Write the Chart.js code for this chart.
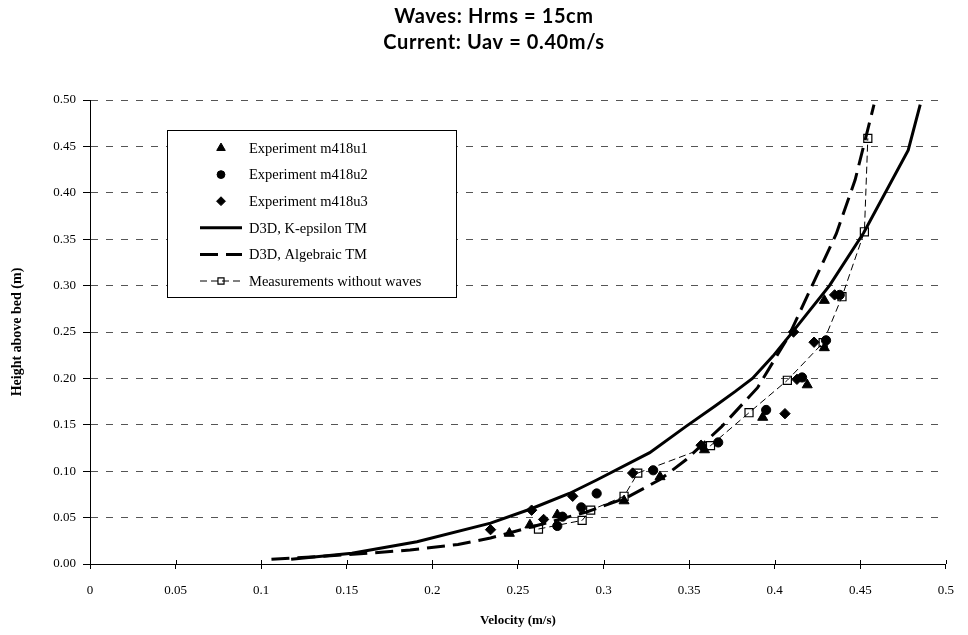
<!DOCTYPE html>
<html>
<head>
<meta charset="utf-8">
<title>Velocity profile</title>
<script src="https://cdn.jsdelivr.net/npm/chart.js@4.4.1/dist/chart.umd.min.js"></script>
<style>
  html, body { margin: 0; padding: 0; background: #fff; }
  #wrap { position: relative; width: 968px; height: 635px; }
</style>
</head>
<body>
<div id="wrap"><canvas id="profileChart"></canvas></div>
<script>
const titleLines = ['Waves: Hrms = 15cm', 'Current: Uav = 0.40m/s'];
const xTickLabels = ['0', '0.05', '0.1', '0.15', '0.2', '0.25', '0.3', '0.35', '0.4', '0.45', '0.5'];
const yTickLabels = ['0.00', '0.05', '0.10', '0.15', '0.20', '0.25', '0.30', '0.35', '0.40', '0.45', '0.50'];

// experiment m418u1 (triangles)
const u1Vel = [0.245, 0.257, 0.273, 0.312, 0.333, 0.359, 0.393, 0.419, 0.429, 0.429];
const u1Z   = [0.033, 0.042, 0.053, 0.068, 0.094, 0.123, 0.158, 0.193, 0.233, 0.284];
// experiment m418u2 (circles)
const u2Vel = [0.273, 0.276, 0.287, 0.296, 0.329, 0.367, 0.395, 0.416, 0.430, 0.438];
const u2Z   = [0.041, 0.051, 0.061, 0.076, 0.101, 0.131, 0.166, 0.201, 0.241, 0.290];
// experiment m418u3 (diamonds)
const u3Vel = [0.234, 0.258, 0.265, 0.282, 0.317, 0.357, 0.406, 0.413, 0.411, 0.423, 0.435];
const u3Z   = [0.037, 0.058, 0.048, 0.073, 0.098, 0.128, 0.162, 0.199, 0.250, 0.239, 0.290];

// model results
const kepsVel = [0.1175, 0.153, 0.191, 0.234, 0.257, 0.280, 0.296, 0.327, 0.348, 0.365, 0.377, 0.387, 0.399, 0.410, 0.432, 0.452, 0.478, 0.485];
const kepsZ   = [0.005, 0.0115, 0.024, 0.044, 0.059, 0.076, 0.0905, 0.120, 0.148, 0.170, 0.186, 0.200, 0.224, 0.249, 0.300, 0.357, 0.446, 0.495];
const algVel  = [0.106, 0.150, 0.187, 0.215, 0.234, 0.260, 0.290, 0.313, 0.333, 0.348, 0.369, 0.390, 0.408, 0.436, 0.447, 0.458];
const algZ    = [0.005, 0.010, 0.015, 0.021, 0.028, 0.041, 0.056, 0.071, 0.091, 0.112, 0.148, 0.190, 0.245, 0.356, 0.414, 0.495];

// current only
const noWaveVel = [0.262, 0.2875, 0.2925, 0.312, 0.320, 0.3625, 0.385, 0.4074, 0.4283, 0.4393, 0.4524, 0.4544];
const noWaveZ   = [0.0377, 0.047, 0.058, 0.073, 0.098, 0.1275, 0.163, 0.198, 0.2385, 0.288, 0.358, 0.4587];

function pairs(xs, ys) {
  return xs.map((x, i) => ({ x: x, y: ys[i] }));
}

const serif = 'Liberation Serif, Times New Roman, serif';

function markerSet(label, xs, ys, style, r) {
  return {
    label: label,
    data: pairs(xs, ys),
    showLine: false,
    pointStyle: style,
    pointRadius: r,
    pointHoverRadius: r,
    pointBackgroundColor: '#000',
    pointBorderColor: '#000',
    pointBorderWidth: 1
  };
}

const datasets = [
  markerSet('Experiment m418u1', u1Vel, u1Z, 'triangle', 5.8),
  markerSet('Experiment m418u2', u2Vel, u2Z, 'circle', 4.6),
  markerSet('Experiment m418u3', u3Vel, u3Z, 'rectRot', 5.2),
  {
    label: 'D3D, K-epsilon TM',
    data: pairs(kepsVel, kepsZ),
    showLine: true,
    borderColor: '#000',
    borderWidth: 3,
    pointRadius: 0,
    tension: 0
  },
  {
    label: 'D3D, Algebraic TM',
    data: pairs(algVel, algZ),
    showLine: true,
    borderColor: '#000',
    borderWidth: 3,
    borderDash: [18, 8],
    pointRadius: 0,
    tension: 0
  },
  {
    label: 'Measurements without waves',
    data: pairs(noWaveVel, noWaveZ),
    showLine: true,
    borderColor: '#000',
    borderWidth: 1,
    borderDash: [7, 4],
    pointStyle: 'rect',
    pointRadius: 5.7,
    pointHoverRadius: 5.7,
    pointBackgroundColor: 'rgba(0,0,0,0)',
    pointBorderColor: '#000',
    pointBorderWidth: 1.2,
    tension: 0
  }
];

// two bold lines over the plot
const titlePlugin = {
  id: 'twoLineTitle',
  afterDraw(chart) {
    const ctx = chart.ctx;
    ctx.save();
    ctx.fillStyle = '#000';
    ctx.font = 'bold 20px Lato, sans-serif';
    ctx.letterSpacing = '0.6px';
    ctx.textAlign = 'center';
    ctx.textBaseline = 'middle';
    titleLines.forEach((t, i) => ctx.fillText(t, 494, 17 + i * 26));
    ctx.restore();
  }
};

// x ticks cross the axis line
const innerTicks = {
  id: 'innerTicks',
  afterDraw(chart) {
    const sx = chart.scales.x;
    const ctx = chart.ctx;
    const yb = chart.chartArea.bottom;
    ctx.save();
    ctx.strokeStyle = '#000';
    ctx.lineWidth = 1;
    sx.ticks.forEach(t => {
      const px = Math.round(sx.getPixelForValue(t.value)) + 0.5;
      ctx.beginPath();
      ctx.moveTo(px, yb - 4);
      ctx.lineTo(px, yb);
      ctx.stroke();
    });
    ctx.restore();
  }
};

// boxed legend sitting inside the plot area
const boxLegend = {
  id: 'boxLegend',
  afterDatasetsDraw(chart) {
    const ctx = chart.ctx;
    const left = 167, top = 130, width = 289, height = 167;
    ctx.save();
    ctx.fillStyle = '#fff';
    ctx.fillRect(left, top, width, height);
    ctx.strokeStyle = '#000';
    ctx.lineWidth = 1;
    ctx.strokeRect(left + 0.5, top + 0.5, width, height);

    chart.data.datasets.forEach((ds, i) => {
      const y = 148 + i * 26.6;
      const mx = 221;
      if (ds.showLine) {
        ctx.save();
        ctx.strokeStyle = ds.borderColor;
        ctx.lineWidth = ds.borderWidth;
        ctx.setLineDash(ds.borderDash || []);
        ctx.beginPath();
        ctx.moveTo(200, y);
        ctx.lineTo(242, y);
        ctx.stroke();
        ctx.restore();
      }
      if (ds.pointRadius > 0) {
        ctx.save();
        ctx.fillStyle = ds.pointBackgroundColor;
        ctx.strokeStyle = ds.pointBorderColor;
        ctx.lineWidth = ds.pointBorderWidth;
        const r = ds.pointStyle === 'rect' ? 4.3 : ds.pointRadius * 0.85;
        Chart.helpers.drawPoint(ctx, {
          pointStyle: ds.pointStyle, radius: r, rotation: 0, borderWidth: ds.pointBorderWidth
        }, mx, y);
        ctx.restore();
      }
      ctx.fillStyle = '#000';
      ctx.font = '14.5px ' + serif;
      ctx.textAlign = 'left';
      ctx.textBaseline = 'middle';
      ctx.fillText(ds.label, 249, y + 1);
    });
    ctx.restore();
  }
};

new Chart(document.getElementById('profileChart'), {
  type: 'scatter',
  data: { datasets: datasets },
  plugins: [titlePlugin, boxLegend, innerTicks],
  options: {
    responsive: true,
    maintainAspectRatio: false,
    animation: false,
    layout: { padding: { top: 100, right: 16, left: 0, bottom: 0 } },
    plugins: {
      legend: { display: false },
      title: { display: false },
      tooltip: { enabled: false }
    },
    scales: {
      x: {
        type: 'linear',
        min: 0,
        max: 0.5,
        ticks: {
          stepSize: 0.05,
          autoSkip: false,
          maxRotation: 0,
          color: '#000',
          padding: 14,
          font: { family: serif, size: 13 },
          callback: (v, i) => xTickLabels[i]
        },
        grid: { drawOnChartArea: false, drawTicks: true, tickLength: 5, color: '#000' },
        border: { color: '#000', width: 1 },
        title: {
          display: true,
          text: 'Velocity (m/s)',
          color: '#000',
          font: { family: serif, size: 13, weight: 'bold' },
          padding: { top: 0, bottom: 7 }
        },
        afterFit: s => { s.height = 71; }
      },
      y: {
        type: 'linear',
        min: 0,
        max: 0.5,
        ticks: {
          stepSize: 0.05,
          autoSkip: false,
          color: '#000',
          padding: 7,
          font: { family: serif, size: 13 },
          callback: (v, i) => yTickLabels[i]
        },
        grid: {
          color: '#555',
          lineWidth: 1,
          tickLength: 7,
          tickColor: '#000',
          tickBorderDash: []
        },
        border: { color: '#000', width: 1, dash: [7, 8] },
        title: {
          display: true,
          text: 'Height above bed (m)',
          color: '#000',
          font: { family: serif, size: 14, weight: 'bold' },
          padding: { top: 9, bottom: 0 }
        },
        afterFit: s => { s.width = 90; }
      }
    }
  }
});
</script>
</body>
</html>
